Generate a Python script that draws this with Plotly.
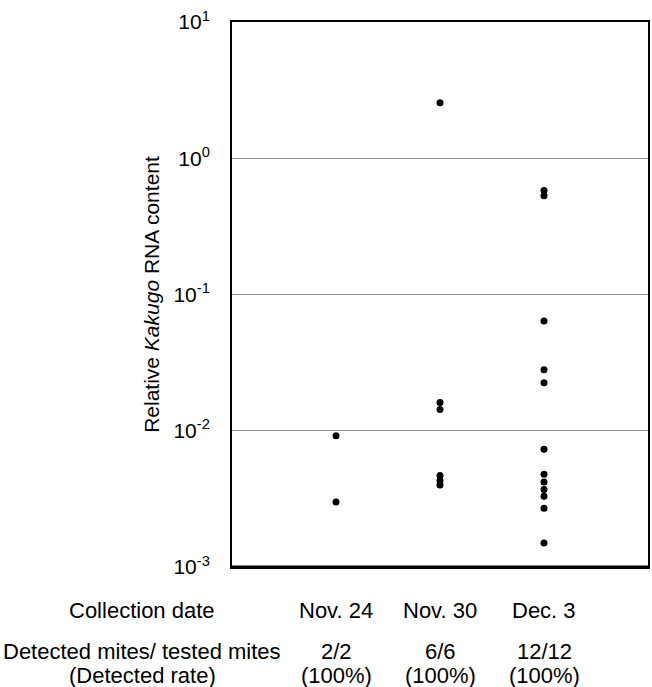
import plotly.graph_objects as go

dates = ["Nov. 24", "Nov. 30", "Dec. 3"]
detected = ["2/2", "6/6", "12/12"]
rates = ["(100%)", "(100%)", "(100%)"]
row_labels = ["Collection date", "Detected mites/ tested mites", "(Detected rate)"]

nov24 = [0.0092, 0.0030]
nov30 = [2.55, 0.0161, 0.0143, 0.0047, 0.0043, 0.0040]
dec3 = [0.58, 0.53, 0.064, 0.028, 0.0225, 0.0073, 0.0048, 0.0042, 0.0037, 0.0033, 0.0027, 0.0015]

series = [nov24, nov30, dec3]

ytick_vals = [0.001, 0.01, 0.1, 1, 10]
ytick_text = ["10<sup>-3</sup>", "10<sup>-2</sup>", "10<sup>-1</sup>", "10<sup>0</sup>", "10<sup>1</sup>"]

FONT = "Liberation Sans, Arial, sans-serif"
TXT = 22

fig = go.Figure()
for i, vals in enumerate(series):
    fig.add_trace(go.Scatter(
        x=[i] * len(vals), y=vals, mode="markers",
        marker=dict(color="black", size=7),
        showlegend=False, cliponaxis=False,
    ))

fig.update_layout(
    width=652, height=687,
    margin=dict(l=232, r=2, t=22, b=120),
    paper_bgcolor="white", plot_bgcolor="white",
    font=dict(family=FONT, size=TXT, color="black"),
)
fig.update_xaxes(
    range=[-1, 3], showgrid=False, zeroline=False, showticklabels=False,
    showline=True, mirror=True, linecolor="black", linewidth=2, ticks="",
)
fig.update_yaxes(
    type="log", range=[-3, 1], tickvals=ytick_vals, ticktext=ytick_text,
    showgrid=True, gridcolor="#8c8c8c", gridwidth=1,
    showline=True, mirror=True, linecolor="black", linewidth=2,
    ticks="", ticklabelstandoff=16, tickfont=dict(size=21),
    title=dict(text="Relative <i>Kakugo</i> RNA content", font=dict(size=21), standoff=8),
)
# thicker bottom frame line
fig.add_shape(type="line", xref="paper", yref="paper", x0=0, x1=1, y0=0, y1=0,
              line=dict(color="black", width=3))

shifts = [-43, -84, -108]
row_label_x = (142 - 232) / 418  # paper coords
for ys, lab in zip(shifts, row_labels):
    fig.add_annotation(x=row_label_x, xref="paper", y=0, yref="paper", yanchor="middle",
                       xanchor="center", yshift=ys, text=lab, showarrow=False,
                       font=dict(family=FONT, size=TXT, color="black"))
for i in range(3):
    for ys, txt in zip(shifts, [dates[i], detected[i], rates[i]]):
        fig.add_annotation(x=i, xref="x", y=0, yref="paper", yanchor="middle",
                           xanchor="center", yshift=ys, text=txt, showarrow=False,
                           font=dict(family=FONT, size=TXT, color="black"))

fig.write_html("out.html")
